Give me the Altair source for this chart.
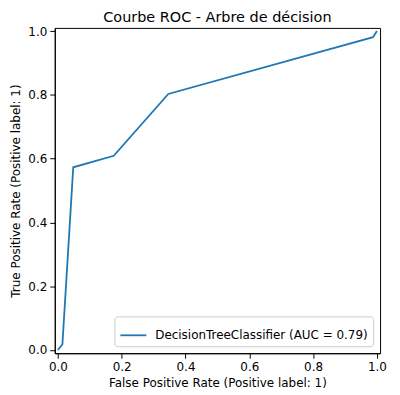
import altair as alt
import pandas as pd

fpr = [0.0, 0.014, 0.048, 0.175, 0.346, 0.988, 1.0]
tpr = [0.0, 0.018, 0.573, 0.609, 0.803, 0.981, 1.0]
series = "DecisionTreeClassifier (AUC = 0.79)"
ticks = [0.0, 0.2, 0.4, 0.6, 0.8, 1.0]

df = pd.DataFrame({"fpr": fpr, "tpr": tpr, "s": [series] * len(fpr), "o": list(range(len(fpr)))})

FONT = "DejaVu Sans"

chart = alt.Chart(df).mark_line(strokeWidth=1.8).encode(
    x=alt.X("fpr:Q", scale=alt.Scale(domain=[-0.01, 1.01], nice=False, zero=False),
            axis=alt.Axis(values=ticks, format=".1f", grid=False,
                          title="False Positive Rate (Positive label: 1)")),
    y=alt.Y("tpr:Q", scale=alt.Scale(domain=[-0.01, 1.01], nice=False, zero=False),
            axis=alt.Axis(values=ticks, format=".1f", grid=False,
                          title="True Positive Rate (Positive label: 1)")),
    order="o:Q",
    color=alt.Color("s:N", scale=alt.Scale(range=["#1f77b4"]),
                    legend=alt.Legend(title=None, orient="bottom-right", symbolType="stroke",
                                      symbolStrokeWidth=1.8, symbolSize=676,
                                      labelFont=FONT, labelFontSize=12, labelColor="black",
                                      labelLimit=400, labelOffset=8,
                                      strokeColor="#cccccc", fillColor="white",
                                      padding=5, cornerRadius=3, offset=7)),
).properties(
    width=327, height=327,
    title=alt.TitleParams("Courbe ROC - Arbre de décision", font=FONT, fontSize=14.5,
                          fontWeight="normal", color="black", offset=0),
    padding={"left": 1, "top": 0, "right": 5, "bottom": 5},
).configure_view(stroke="black", strokeWidth=1).configure_axis(
    labelFont=FONT, titleFont=FONT, labelFontSize=12, titleFontSize=12,
    titleFontWeight="normal", labelColor="black", titleColor="black",
    domainColor="black", tickColor="black", tickSize=5, labelPadding=3, titlePadding=5,
)

chart.save("out.html", embed_options={"renderer": "svg", "actions": False})
